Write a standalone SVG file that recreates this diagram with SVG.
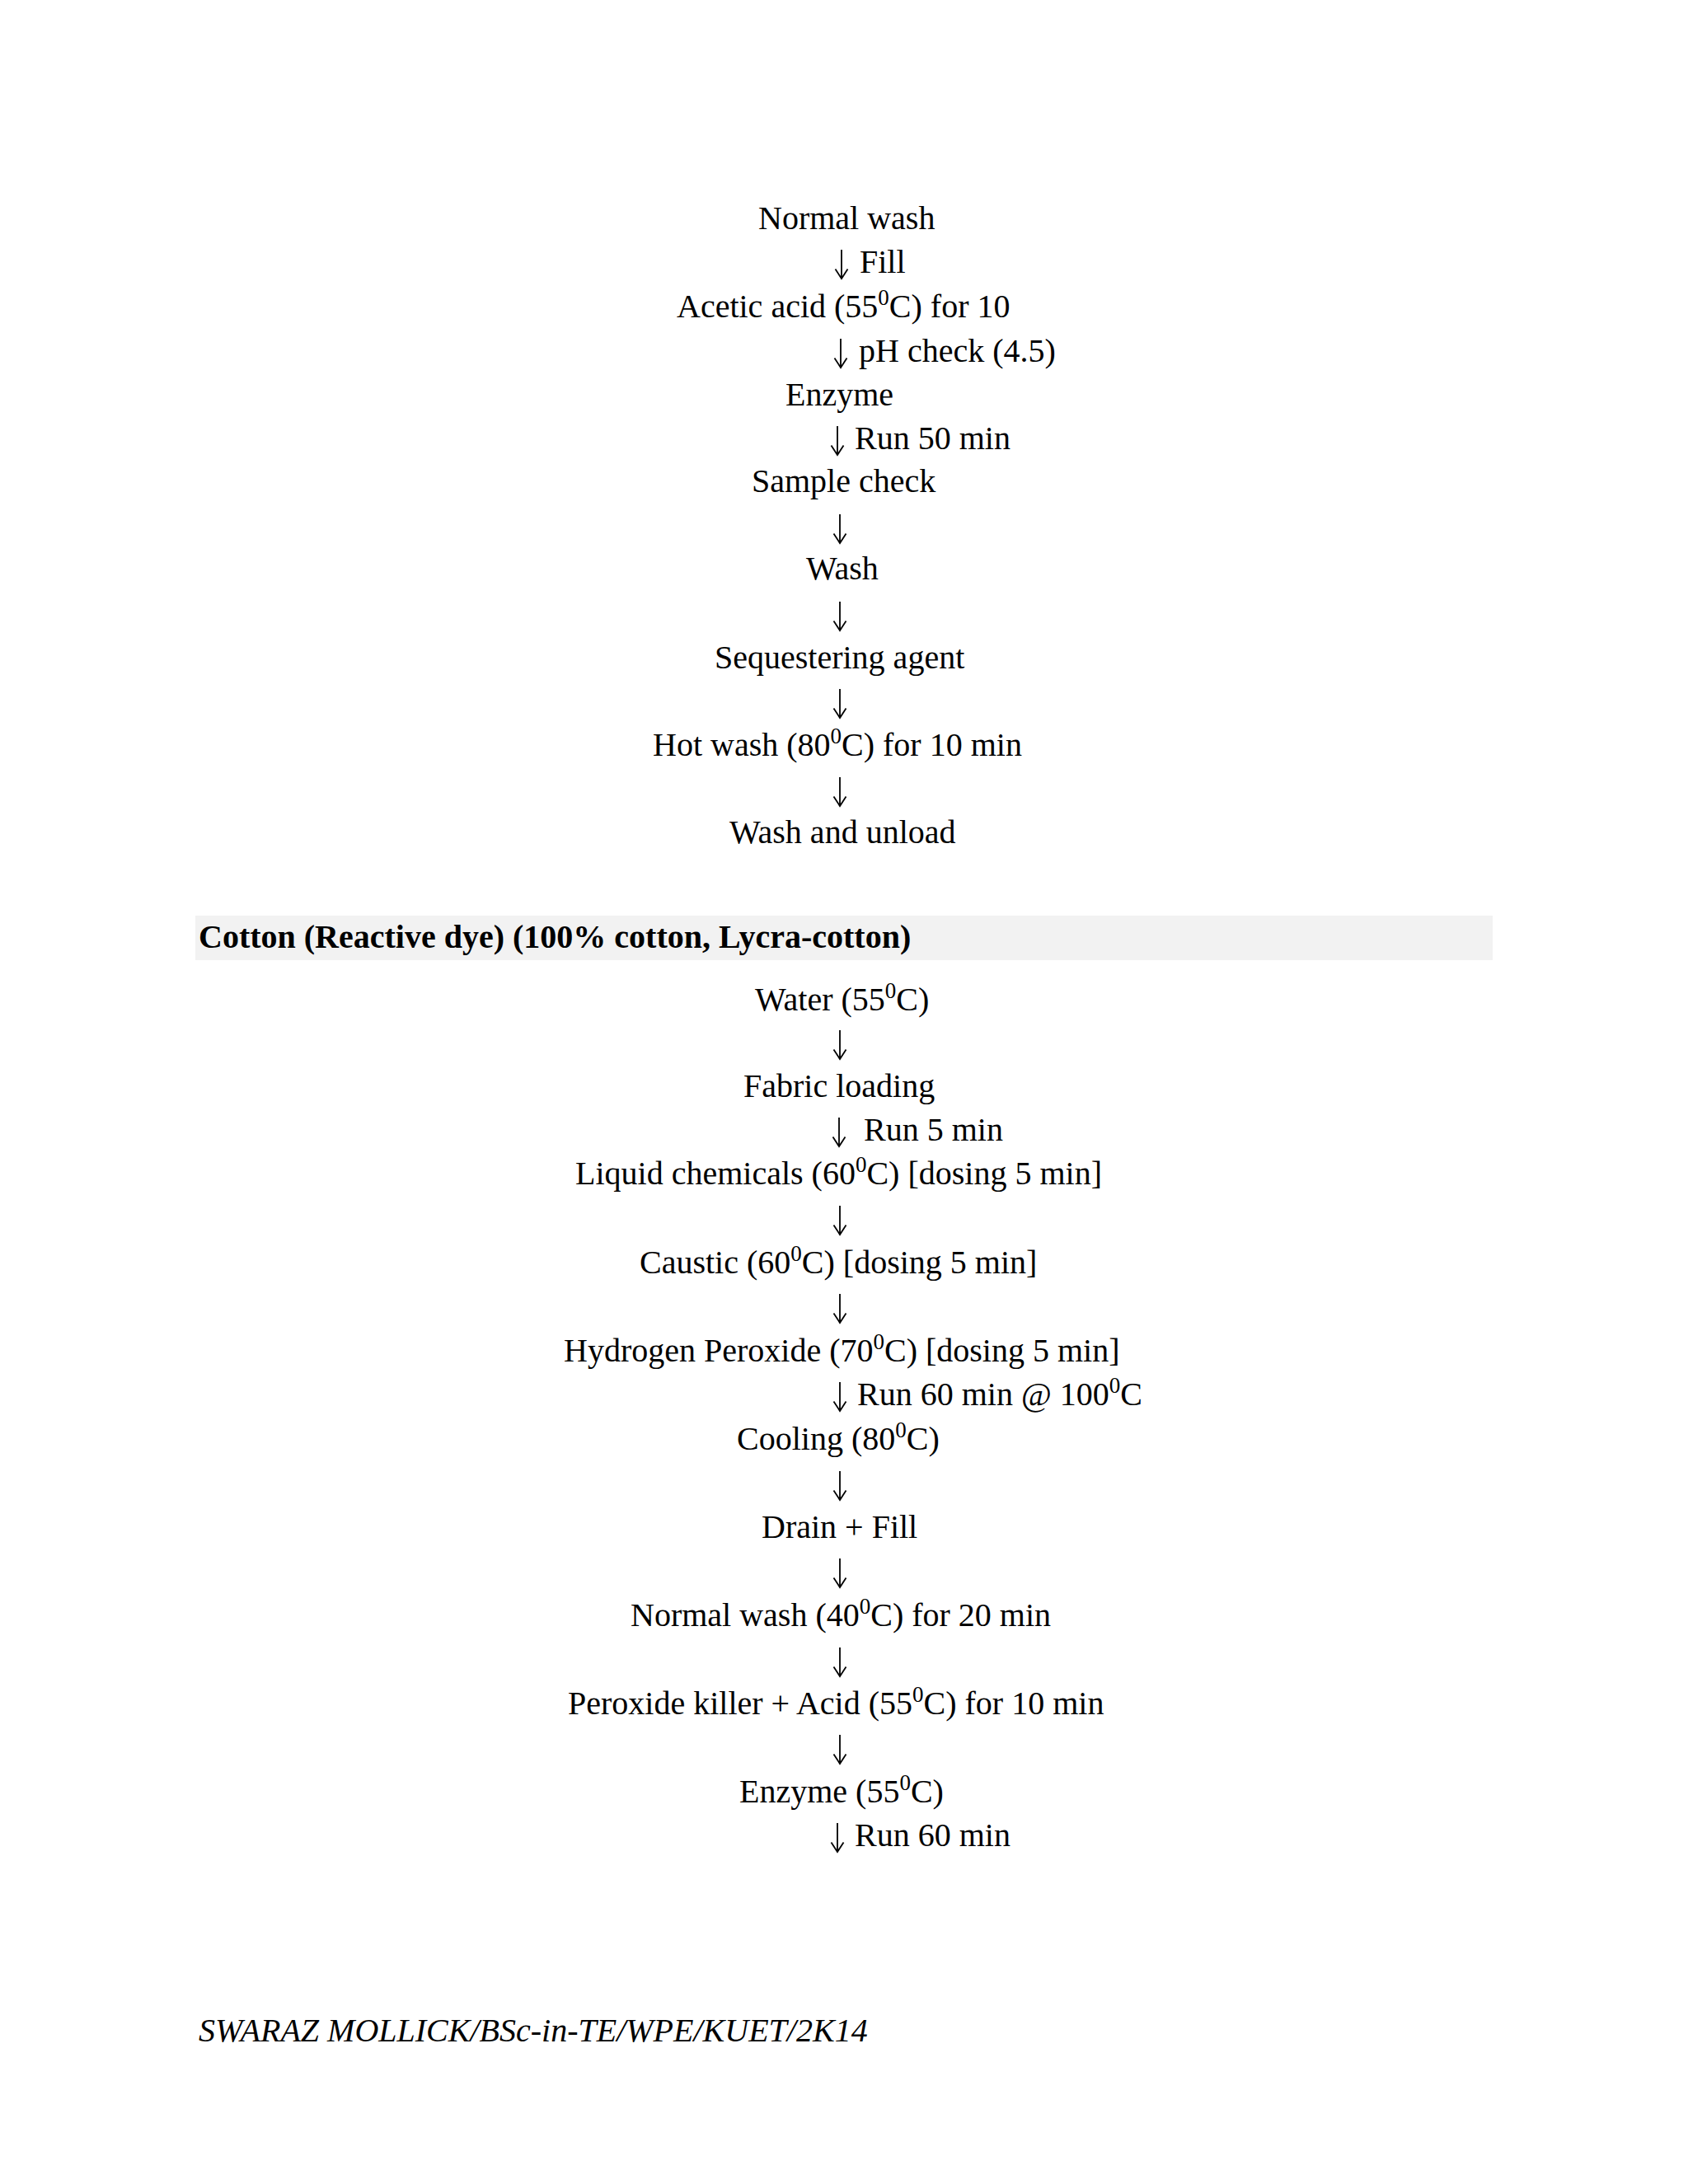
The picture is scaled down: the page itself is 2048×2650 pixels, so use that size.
<svg xmlns="http://www.w3.org/2000/svg" width="2048" height="2650" viewBox="0 0 2048 2650">
<style>
text{font-family:"Liberation Serif","Times New Roman",serif;font-size:40px;fill:#000}
.sup{font-size:27px}
.h{font-weight:bold}
.f{font-style:italic}
.arrow{fill:none;stroke:#000;stroke-width:1.8;stroke-linejoin:miter}
</style>
<defs>
<path id="arr" class="arrow" d="M0,-28 V7 M-7.5,-4.5 L0,7 L7.5,-4.5"/>
</defs>
<rect width="2048" height="2650" fill="#fff"/>
<g id="nodes-top">
<g id="n1"><text x="920" y="278">Normal wash</text></g>
<g id="n2"><text x="821" y="385">Acetic acid (55<tspan class="sup" dy="-15">0</tspan><tspan dy="15">C) for 10</tspan></text></g>
<g id="n3"><text x="953" y="492">Enzyme</text></g>
<g id="n4"><text x="912" y="597">Sample check</text></g>
<g id="n5"><text x="978" y="703">Wash</text></g>
<g id="n6"><text x="867" y="811">Sequestering agent</text></g>
<g id="n7"><text x="792" y="917">Hot wash (80<tspan class="sup" dy="-15">0</tspan><tspan dy="15">C) for 10 min</tspan></text></g>
<g id="n8"><text x="885" y="1023">Wash and unload</text></g>
</g>
<g id="heading">
<rect x="237" y="1111" width="1574" height="54" fill="#f2f2f2"/>
<text class="h" x="241" y="1150">Cotton (Reactive dye) (100% cotton, Lycra-cotton)</text>
</g>
<g id="nodes-bottom">
<g id="m1"><text x="916" y="1226">Water (55<tspan class="sup" dy="-15">0</tspan><tspan dy="15">C)</tspan></text></g>
<g id="m2"><text x="902" y="1331">Fabric loading</text></g>
<g id="m3"><text x="698" y="1437">Liquid chemicals (60<tspan class="sup" dy="-15">0</tspan><tspan dy="15">C) [dosing 5 min]</tspan></text></g>
<g id="m4"><text x="776" y="1545">Caustic (60<tspan class="sup" dy="-15">0</tspan><tspan dy="15">C) [dosing 5 min]</tspan></text></g>
<g id="m5"><text x="684" y="1652">Hydrogen Peroxide (70<tspan class="sup" dy="-15">0</tspan><tspan dy="15">C) [dosing 5 min]</tspan></text></g>
<g id="m6"><text x="894" y="1759">Cooling (80<tspan class="sup" dy="-15">0</tspan><tspan dy="15">C)</tspan></text></g>
<g id="m7"><text x="924" y="1866">Drain + Fill</text></g>
<g id="m8"><text x="765" y="1973">Normal wash (40<tspan class="sup" dy="-15">0</tspan><tspan dy="15">C) for 20 min</tspan></text></g>
<g id="m9"><text x="689" y="2080">Peroxide killer + Acid (55<tspan class="sup" dy="-15">0</tspan><tspan dy="15">C) for 10 min</tspan></text></g>
<g id="m10"><text x="897" y="2187">Enzyme (55<tspan class="sup" dy="-15">0</tspan><tspan dy="15">C)</tspan></text></g>
</g>
<g id="connectors">
<use href="#arr" x="1021" y="331"/><text x="1043" y="331">Fill</text>
<use href="#arr" x="1020" y="439"/><text x="1042" y="439">pH check (4.5)</text>
<use href="#arr" x="1016" y="545"/><text x="1037" y="545">Run 50 min</text>
<use href="#arr" x="1019" y="652"/>
<use href="#arr" x="1019" y="758"/>
<use href="#arr" x="1019" y="864"/>
<use href="#arr" x="1019" y="971"/>
<use href="#arr" x="1019" y="1278"/>
<use href="#arr" x="1018" y="1384"/><text x="1048" y="1384">Run 5 min</text>
<use href="#arr" x="1019" y="1491"/>
<use href="#arr" x="1019" y="1598"/>
<use href="#arr" x="1019" y="1705"/><text x="1040" y="1705">Run 60 min @ 100<tspan class="sup" dy="-15">0</tspan><tspan dy="15">C</tspan></text>
<use href="#arr" x="1019" y="1813"/>
<use href="#arr" x="1019" y="1919"/>
<use href="#arr" x="1019" y="2027"/>
<use href="#arr" x="1019" y="2133"/>
<use href="#arr" x="1016" y="2240"/><text x="1037" y="2240">Run 60 min</text>
</g>
<g id="footer"><text class="f" x="241" y="2477">SWARAZ MOLLICK/BSc-in-TE/WPE/KUET/2K14</text></g>
</svg>
